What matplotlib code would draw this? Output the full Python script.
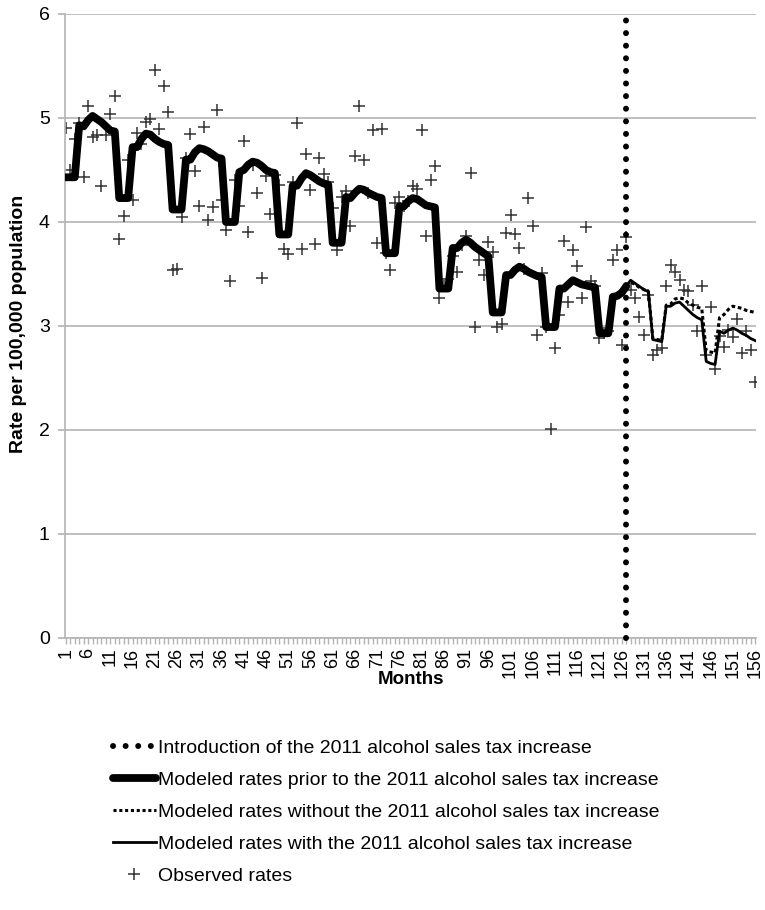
import matplotlib
matplotlib.use("Agg")
import matplotlib.pyplot as plt
from matplotlib.lines import Line2D

plt.rcParams['font.family'] = ['Liberation Sans', 'DejaVu Sans']

months = list(range(1, 157))

observed = [4.90, 4.50, 4.80, 4.95, 4.43, 5.12, 4.82, 4.84, 4.35, 4.84, 5.04, 5.21,
            3.84, 4.06, 4.60, 4.21, 4.86, 4.75, 4.96, 4.99, 5.46, 4.89, 5.31, 5.06,
            3.54, 3.55, 4.05, 4.62, 4.85, 4.49, 4.15, 4.91, 4.02, 4.14, 5.08, 4.21,
            3.92, 3.43, 4.40, 4.15, 4.78, 3.90, 4.55, 4.28, 3.46, 4.44, 4.08, 4.45,
            4.36, 3.74, 3.69, 4.38, 4.95, 3.74, 4.65, 4.31, 3.79, 4.62, 4.46, 4.38,
            4.13, 3.73, 4.24, 4.30, 3.96, 4.63, 5.12, 4.60, 4.28, 4.88, 3.80, 4.89,
            3.70, 3.54, 4.18, 4.24, 4.15, 4.20, 4.35, 4.32, 4.88, 3.87, 4.40, 4.54,
            3.27, 3.38, 3.45, 3.67, 3.52, 3.78, 3.87, 4.47, 2.99, 3.63, 3.49, 3.81,
            3.71, 2.99, 3.02, 3.89, 4.07, 3.88, 3.75, 3.55, 4.23, 3.96, 2.91, 3.51,
            2.99, 2.01, 2.79, 3.11, 3.82, 3.23, 3.73, 3.58, 3.27, 3.95, 3.43, 3.38,
            2.88, 2.93, 2.95, 3.63, 3.73, 2.82, 3.86, 3.35, 3.27, 3.09, 2.91, 3.30,
            2.72, 2.77, 2.79, 3.38, 3.59, 3.52, 3.44, 3.35, 3.34, 3.20, 2.95, 3.38,
            2.72, 3.18, 2.59, 2.90, 2.80, 2.96, 2.89, 3.07, 2.74, 2.95, 2.77, 2.46]

prior_months = list(range(1, 128))
prior = [4.43, 4.43, 4.43, 4.93, 4.92, 4.98, 5.02, 4.99, 4.96, 4.92, 4.88, 4.87,
         4.23, 4.23, 4.23, 4.72, 4.72, 4.80, 4.85, 4.84, 4.80, 4.77, 4.75, 4.74,
         4.12, 4.12, 4.12, 4.60, 4.60, 4.67, 4.71, 4.70, 4.68, 4.65, 4.62, 4.61,
         4.00, 4.00, 4.00, 4.48, 4.50, 4.55, 4.58, 4.57, 4.54, 4.50, 4.48, 4.47,
         3.88, 3.88, 3.88, 4.35, 4.35, 4.42, 4.47, 4.45, 4.42, 4.39, 4.37, 4.36,
         3.80, 3.80, 3.80, 4.24, 4.23, 4.28, 4.32, 4.31, 4.28, 4.26, 4.24, 4.23,
         3.70, 3.70, 3.70, 4.15, 4.15, 4.20, 4.23, 4.22, 4.19, 4.16, 4.15, 4.14,
         3.36, 3.36, 3.36, 3.75, 3.75, 3.80, 3.83, 3.80, 3.76, 3.73, 3.70, 3.67,
         3.13, 3.13, 3.13, 3.49, 3.49, 3.54, 3.57, 3.55, 3.52, 3.50, 3.48, 3.47,
         2.99, 2.99, 2.99, 3.36, 3.36, 3.40, 3.44, 3.42, 3.40, 3.39, 3.38, 3.37,
         2.93, 2.93, 2.93, 3.28, 3.29, 3.32, 3.38]

post_months = list(range(127, 157))
with_tax = [3.38, 3.44, 3.41, 3.38, 3.35, 3.33, 2.87, 2.86, 2.85, 3.19,
            3.19, 3.22, 3.23, 3.19, 3.15, 3.11, 3.08, 3.06, 2.66, 2.64,
            2.63, 2.95, 2.93, 2.96, 2.98, 2.96, 2.93, 2.91, 2.88, 2.86]
without_tax = [3.38, 3.42, 3.40, 3.37, 3.35, 3.33, 2.88, 2.87, 2.86, 3.20,
               3.21, 3.26, 3.27, 3.26, 3.22, 3.20, 3.18, 3.17, 2.76, 2.75,
               2.74, 3.08, 3.11, 3.16, 3.19, 3.18, 3.17, 3.15, 3.14, 3.13]

intervention_month = 127
y_ticks = [0, 1, 2, 3, 4, 5, 6]
x_label_months = list(range(1, 157, 5))

labels = ["Introduction of the 2011 alcohol sales tax increase",
          "Modeled rates prior to the 2011 alcohol sales tax increase",
          "Modeled rates without the 2011 alcohol sales tax increase",
          "Modeled rates with the 2011 alcohol sales tax increase",
          "Observed rates"]

W, H = 765, 910
fig = plt.figure(figsize=(W / 100, H / 100), dpi=100)
ax = fig.add_axes([65 / W, 1 - 638 / H, (756 - 65) / W, (638 - 14) / H])

ax.set_xlim(0.8, 156.2)
ax.set_ylim(0, 6)

grid_c = '#b4b4b4'
for s in ['top', 'right']:
    ax.spines[s].set_visible(False)
for s in ['left', 'bottom']:
    ax.spines[s].set_color(grid_c)
    ax.spines[s].set_linewidth(1.2)
ax.set_yticks(y_ticks)
ax.yaxis.grid(True, color=grid_c, linewidth=1.2)
ax.set_axisbelow(True)
ax.set_xticks(x_label_months)
ax.set_xticks(months, minor=True)
ax.tick_params(axis='x', which='both', length=4, color=grid_c, width=1)
ax.tick_params(axis='y', length=5, color=grid_c, width=1.2, labelsize=14, pad=6)
ax.tick_params(axis='x', labelsize=13, labelrotation=90, pad=3)

dot_style = (0, (0.01, 2.1))
ax.plot(months, observed, linestyle='none', marker='+', markersize=8,
        markeredgewidth=1.1, color='#333333', zorder=2)
ax.plot(prior_months, prior, color='black', linewidth=5.6, solid_joinstyle='round',
        solid_capstyle='round', zorder=3)
ax.plot(post_months, without_tax, color='black', linewidth=2.2,
        linestyle=(0, (1.2, 0.9)), zorder=3)
ax.plot(post_months, with_tax, color='black', linewidth=2.0, zorder=3)
ax.plot([intervention_month, intervention_month], [0, 6], color='black',
        linewidth=4.3, linestyle=dot_style, dash_capstyle='round', zorder=4,
        clip_on=False)

fig.text(411 / W, 1 - 679 / H, "Months", fontsize=13.5, fontweight='bold',
         ha='center', va='center')
fig.text(19 / W, 1 - 324 / H, "Rate per 100,000 population", fontsize=14,
         fontweight='bold', rotation=90, ha='center', va='center')

handles = [
    Line2D([], [], color='black', linewidth=4.3, linestyle=dot_style, dash_capstyle='round'),
    Line2D([], [], color='black', linewidth=5.6, solid_capstyle='round'),
    Line2D([], [], color='black', linewidth=2.2, linestyle=(0, (1.0, 0.9))),
    Line2D([], [], color='black', linewidth=2.0),
    Line2D([], [], linestyle='none', marker='+', markersize=8, markeredgewidth=1.1,
           color='#333333'),
]
fig.legend(handles, labels, loc='upper left', bbox_to_anchor=(113 / W, 1 - 739 / H),
           frameon=False, fontsize=14, handlelength=2.2, handletextpad=0.12,
           labelspacing=0.74, borderpad=0, borderaxespad=0)

fig.savefig("out.png", dpi=100)
